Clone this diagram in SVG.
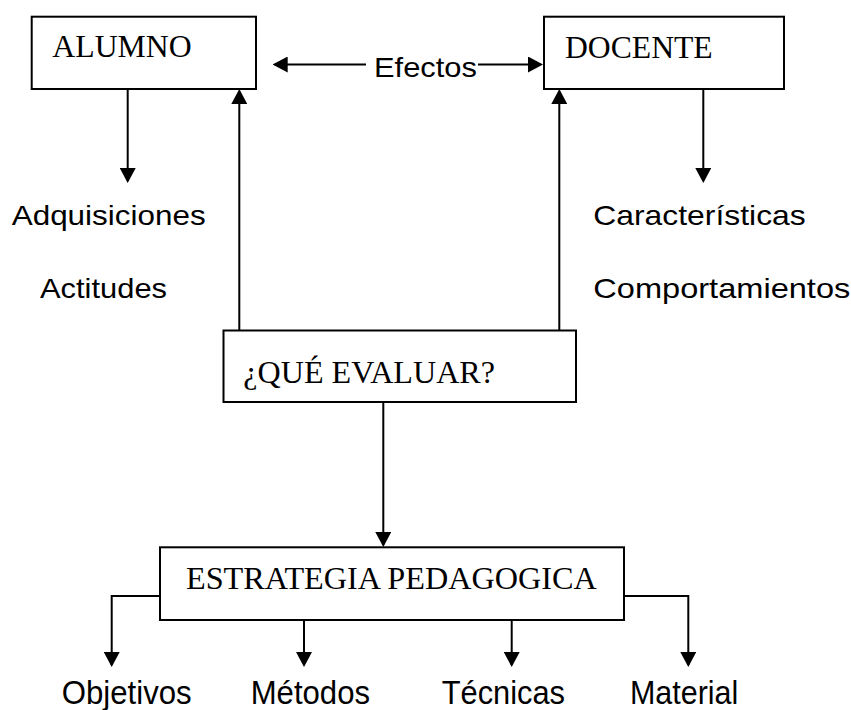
<svg xmlns="http://www.w3.org/2000/svg" width="851" height="710" viewBox="0 0 851 710">
  <defs>
    <marker id="arr" viewBox="0 0 15 16" refX="13" refY="8" markerWidth="15" markerHeight="16" markerUnits="userSpaceOnUse" orient="auto">
      <path d="M0,0 L15,8 L0,16 Z" fill="#000"/>
    </marker>
    <style>
      .box { fill: #fff; stroke: #000; stroke-width: 2; }
      .serif { font-family: "Liberation Serif", "Times New Roman", serif; font-size: 32px; fill: #000; }
      .sans { font-family: "Liberation Sans", Arial, sans-serif; font-size: 28px; fill: #000; }
      .sansb { font-family: "Liberation Sans", Arial, sans-serif; font-size: 34px; fill: #000; }
      .conn { fill: none; stroke: #000; stroke-width: 2; marker-end: url(#arr); }
      .plain { fill: none; stroke: #000; stroke-width: 2; }
    </style>
  </defs>
  <rect x="0" y="0" width="851" height="710" fill="#fff"/>

  <g id="connectors">
    <path class="conn" d="M127.7,89 L127.7,181"/>
    <path class="conn" d="M239.3,330.5 L239.3,91"/>
    <path class="conn" d="M559.3,330.5 L559.3,91"/>
    <path class="conn" d="M703.3,89 L703.3,181"/>
    <path class="conn" d="M366,64.5 L274.7,64.5"/>
    <path class="conn" d="M478,64.5 L541,64.5"/>
    <path class="conn" d="M383.3,402 L383.3,545"/>
    <path class="conn" d="M160,596 L111.7,596 L111.7,665"/>
    <path class="conn" d="M304,620 L304,665"/>
    <path class="conn" d="M511.7,620 L511.7,665"/>
    <path class="conn" d="M624,596 L688.3,596 L688.3,665"/>
  </g>

  <g id="alumno">
    <rect class="box" x="31.7" y="16.7" width="224.3" height="72.3"/>
    <text class="serif" x="52.3" y="57" textLength="139.4" lengthAdjust="spacingAndGlyphs">ALUMNO</text>
  </g>

  <g id="docente">
    <rect class="box" x="544" y="16.7" width="240" height="72.3"/>
    <text class="serif" x="565" y="58.3" textLength="147.7" lengthAdjust="spacingAndGlyphs">DOCENTE</text>
  </g>

  <g id="efectos">
    <text class="sans" x="374" y="77" font-size="29" textLength="103" lengthAdjust="spacingAndGlyphs">Efectos</text>
  </g>

  <g id="adquisiciones">
    <text class="sans" x="11.7" y="225" textLength="194" lengthAdjust="spacingAndGlyphs">Adquisiciones</text>
  </g>
  <g id="actitudes">
    <text class="sans" x="40" y="298" textLength="127" lengthAdjust="spacingAndGlyphs">Actitudes</text>
  </g>
  <g id="caracteristicas">
    <text class="sans" x="593.3" y="224.5" textLength="212.4" lengthAdjust="spacingAndGlyphs">Características</text>
  </g>
  <g id="comportamientos">
    <text class="sans" x="593.3" y="298" textLength="257" lengthAdjust="spacingAndGlyphs">Comportamientos</text>
  </g>

  <g id="que-evaluar">
    <rect class="box" x="223.5" y="330.5" width="352.5" height="71.5"/>
    <text class="serif" x="243.3" y="382.5" font-size="33" textLength="251.7" lengthAdjust="spacingAndGlyphs">¿QUÉ EVALUAR?</text>
  </g>

  <g id="estrategia">
    <rect class="box" x="160" y="547.3" width="464" height="72.7"/>
    <text class="serif" x="186" y="589.3" textLength="410.7" lengthAdjust="spacingAndGlyphs">ESTRATEGIA PEDAGOGICA</text>
  </g>

  <g id="objetivos">
    <text class="sansb" x="61.7" y="704" textLength="130" lengthAdjust="spacingAndGlyphs">Objetivos</text>
  </g>
  <g id="metodos">
    <text class="sansb" x="250.7" y="704" textLength="119.3" lengthAdjust="spacingAndGlyphs">Métodos</text>
  </g>
  <g id="tecnicas">
    <text class="sansb" x="441.7" y="704" textLength="123.3" lengthAdjust="spacingAndGlyphs">Técnicas</text>
  </g>
  <g id="material">
    <text class="sansb" x="630" y="704" textLength="108.3" lengthAdjust="spacingAndGlyphs">Material</text>
  </g>
</svg>
